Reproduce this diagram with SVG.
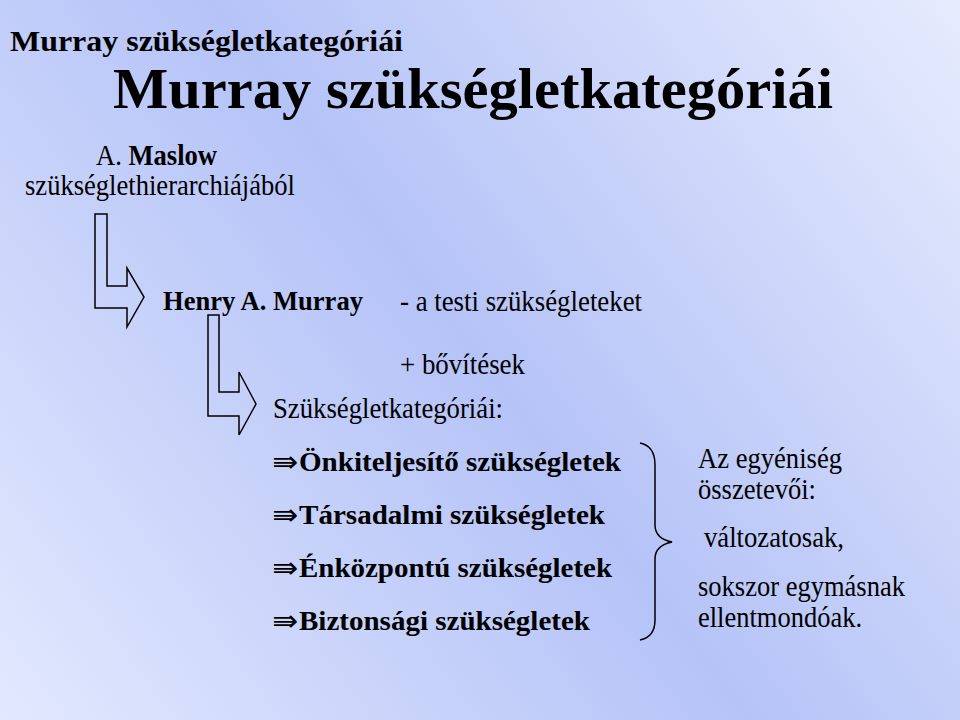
<svg xmlns="http://www.w3.org/2000/svg" width="960" height="720" viewBox="0 0 960 720">
  <defs>
    <linearGradient id="bg" gradientUnits="userSpaceOnUse" x1="960" y1="0" x2="0" y2="720">
      <stop offset="0" stop-color="#e6ebfd"/>
      <stop offset="0.5" stop-color="#b5c3f7"/>
      <stop offset="1" stop-color="#e2e8fe"/>
    </linearGradient>
    <style>
      text { font-family: "Liberation Serif", "Times New Roman", serif; fill: #000; }
      .b { font-weight: bold; }
      .body { font-size: 29px; }
      .bb { font-size: 28px; font-weight: bold; }
      .arr { font-family: "DejaVu Sans", "Noto Sans", sans-serif; font-size: 30px; font-weight: normal; }
      .shape { fill: none; stroke: #000; stroke-width: 1.5; stroke-linejoin: miter; }
    </style>
  </defs>
  <rect x="0" y="0" width="960" height="720" fill="url(#bg)"/>

  <g id="header">
    <text class="b" x="10" y="50.5" font-size="29" textLength="393" lengthAdjust="spacingAndGlyphs">Murray szükségletkategóriái</text>
  </g>
  <g id="title">
    <text class="b" x="113" y="108" font-size="57" textLength="720" lengthAdjust="spacingAndGlyphs">Murray szükségletkategóriái</text>
  </g>

  <g id="maslow">
    <text class="body" x="96" y="165" textLength="121" lengthAdjust="spacingAndGlyphs">A. <tspan class="b">Maslow</tspan></text>
    <text class="body" x="25" y="195" textLength="270" lengthAdjust="spacingAndGlyphs">szükséglethierarchiájából</text>
  </g>

  <g id="murray">
    <text class="bb" x="163" y="310" textLength="200" lengthAdjust="spacingAndGlyphs">Henry A. Murray</text>
  </g>

  <g id="testi">
    <text class="body" x="400" y="311" textLength="242" lengthAdjust="spacingAndGlyphs">- a testi szükségleteket</text>
    <text class="body" x="400" y="374" textLength="125" lengthAdjust="spacingAndGlyphs">+ bővítések</text>
  </g>

  <g id="kategoriak">
    <text class="body" x="273" y="418" textLength="230" lengthAdjust="spacingAndGlyphs">Szükségletkategóriái:</text>
  </g>

  <g id="lista">
    <text class="bb" y="471"><tspan class="arr" x="272" y="472" textLength="26" lengthAdjust="spacingAndGlyphs">⇛</tspan><tspan x="299" y="471" textLength="322" lengthAdjust="spacingAndGlyphs">Önkiteljesítő szükségletek</tspan></text>
    <text class="bb" y="524"><tspan class="arr" x="272" y="525" textLength="26" lengthAdjust="spacingAndGlyphs">⇛</tspan><tspan x="299" y="524" textLength="306" lengthAdjust="spacingAndGlyphs">Társadalmi szükségletek</tspan></text>
    <text class="bb" y="577"><tspan class="arr" x="272" y="578" textLength="26" lengthAdjust="spacingAndGlyphs">⇛</tspan><tspan x="299" y="577" textLength="313" lengthAdjust="spacingAndGlyphs">Énközpontú szükségletek</tspan></text>
    <text class="bb" y="630"><tspan class="arr" x="272" y="631" textLength="26" lengthAdjust="spacingAndGlyphs">⇛</tspan><tspan x="299" y="630" textLength="291" lengthAdjust="spacingAndGlyphs">Biztonsági szükségletek</tspan></text>
  </g>

  <g id="egyeniseg">
    <text class="body" x="698" y="468" textLength="144" lengthAdjust="spacingAndGlyphs">Az egyéniség</text>
    <text class="body" x="698" y="499" textLength="118" lengthAdjust="spacingAndGlyphs">összetevői:</text>
    <text class="body" x="704" y="547" textLength="140" lengthAdjust="spacingAndGlyphs">változatosak,</text>
    <text class="body" x="698" y="596" textLength="207" lengthAdjust="spacingAndGlyphs">sokszor egymásnak</text>
    <text class="body" x="698" y="627" textLength="164" lengthAdjust="spacingAndGlyphs">ellentmondóak.</text>
  </g>

  <g id="connectors">
    <polygon class="shape" points="95,214 107,214 107,286 127,286 127,268 144,297 127,327 127,308 95,308"/>
    <polygon class="shape" points="208,315 219,315 219,392 239,392 239,372 256,404 239,435 239,416 208,416"/>
    <path class="shape" d="M640,443 C650,445 655,452 655,465 L655,525 C655,535 662,540 672,542 C662,544 655,549 655,559 L655,620 C655,632 650,638 640,640"/>
  </g>
</svg>
